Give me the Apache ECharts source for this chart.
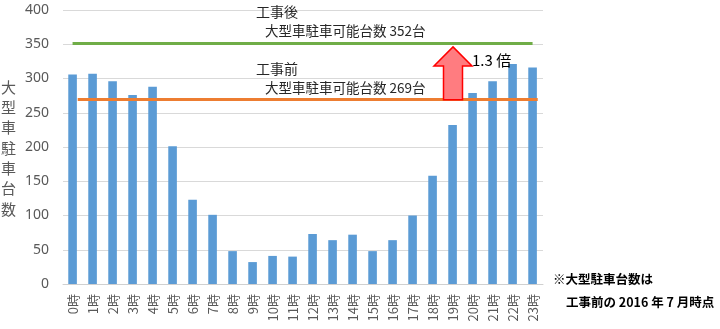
<!DOCTYPE html>
<html>
<head>
<meta charset="utf-8">
<script src="https://cdn.jsdelivr.net/npm/echarts@6/dist/echarts.min.js"></script>
<style>
  html, body { margin: 0; padding: 0; background: #fff; }
  #chart { width: 720px; height: 329px; }
</style>
</head>
<body>
<div id="chart"></div>
<script>
// Hourly count of large vehicles parked (before construction, July 2016)
const hours = ['0時','1時','2時','3時','4時','5時','6時','7時','8時','9時','10時','11時',
               '12時','13時','14時','15時','16時','17時','18時','19時','20時','21時','22時','23時'];
const parkedCounts = [306, 307, 296, 276, 288, 201, 123, 101, 48, 32, 41, 40,
                      73, 64, 72, 48, 64, 100, 158, 232, 279, 296, 321, 316];
const yTicks = { min: 0, max: 400, interval: 50 };

// Parking capacity for large vehicles, before and after construction
const capacityBefore = 269;
const capacityAfter = 352;
const ratioLabel = '1.3 倍';
const arrowHour = '19時';

const jpFont = '"Noto Sans CJK JP", "Noto Sans", sans-serif';
const numFont = '"Noto Sans", "Liberation Sans", sans-serif';

const chart = echarts.init(document.getElementById('chart'), null, { renderer: 'canvas' });

function capacityLine(value, color) {
  return {
    silent: true,
    symbol: ['none', 'none'],
    label: { show: false },
    lineStyle: { color: color, width: 3, type: 'solid' },
    data: [[
      { coord: [hours[0], value] },
      { coord: [hours[hours.length - 1], value] }
    ]]
  };
}

chart.setOption({
  animation: false,
  grid: { left: 63, right: 177, top: 10, bottom: 45, containLabel: false },
  xAxis: {
    type: 'category',
    data: hours,
    boundaryGap: true,
    axisLine: { show: true, lineStyle: { color: '#d0d0d0', width: 1 } },
    axisTick: { show: false },
    axisLabel: {
      rotate: 90, margin: 10, interval: 0,
      color: '#595959', fontSize: 13, fontFamily: jpFont
    }
  },
  yAxis: {
    type: 'value',
    min: yTicks.min, max: yTicks.max, interval: yTicks.interval,
    axisLine: { show: false },
    axisTick: { show: false },
    splitLine: { lineStyle: { color: '#d9d9d9', width: 1 } },
    axisLabel: { color: '#595959', fontSize: 14, fontFamily: numFont, margin: 14 }
  },
  series: [
    {
      type: 'bar',
      data: parkedCounts,
      barWidth: '43%',
      itemStyle: { color: '#5b9bd5' },
      markLine: capacityLine(capacityAfter, '#70ad47')
    },
    {
      type: 'bar',
      data: [],
      markLine: capacityLine(capacityBefore, '#ed7d31')
    }
  ]
});

// Annotations placed through the chart's own scales
const px = (cat, val) => chart.convertToPixel({ gridIndex: 0 }, [cat, val]);
const yAfter = px(hours[0], capacityAfter)[1];
const yBefore = px(hours[0], capacityBefore)[1];
const ax = px(arrowHour, 0)[0];
const tipY = yAfter + 4;
const baseY = yBefore;
const headY = tipY + 19;
const headHalf = 19, shaftHalf = 9.5;

const textColor = '#262626';

chart.setOption({
  graphic: [
    // vertical y-axis title
    {
      type: 'text', left: 1, top: 77,
      style: {
        text: '大\n型\n車\n駐\n車\n台\n数',
        fill: '#595959', font: '15px ' + jpFont, lineHeight: 20.3, align: 'left'
      }
    },
    {
      type: 'text', x: 256, y: yAfter - 31,
      style: { text: '工事後', fill: textColor, font: '14px ' + jpFont, textVerticalAlign: 'middle' }
    },
    {
      type: 'text', x: 265, y: yAfter - 12,
      style: { text: '大型車駐車可能台数 ' + capacityAfter + '台', fill: textColor, font: '13.5px ' + jpFont, textVerticalAlign: 'middle' }
    },
    {
      type: 'text', x: 256, y: yBefore - 31,
      style: { text: '工事前', fill: textColor, font: '14px ' + jpFont, textVerticalAlign: 'middle' }
    },
    {
      type: 'text', x: 265, y: yBefore - 12,
      style: { text: '大型車駐車可能台数 ' + capacityBefore + '台', fill: textColor, font: '13.5px ' + jpFont, textVerticalAlign: 'middle' }
    },
    // block arrow showing the capacity increase
    {
      type: 'polygon', z: 100,
      shape: {
        points: [
          [ax, tipY], [ax + headHalf, headY], [ax + shaftHalf, headY],
          [ax + shaftHalf, baseY], [ax - shaftHalf, baseY], [ax - shaftHalf, headY],
          [ax - headHalf, headY]
        ]
      },
      style: { fill: '#ff7c80', stroke: '#ff0000', lineWidth: 1.5 }
    },
    {
      type: 'text', x: ax + 19, y: headY - 6, z: 100,
      style: { text: ratioLabel, fill: '#000', font: '15px ' + jpFont, textVerticalAlign: 'middle' }
    },
    // footnote
    {
      type: 'text', x: 553, y: 279,
      style: { text: '※大型駐車台数は', fill: '#000', font: 'bold 12.5px ' + jpFont, textVerticalAlign: 'middle' }
    },
    {
      type: 'text', x: 566, y: 302,
      style: { text: '工事前の 2016 年 7 月時点', fill: '#000', font: 'bold 12.5px ' + jpFont, textVerticalAlign: 'middle' }
    }
  ]
});
</script>
</body>
</html>
